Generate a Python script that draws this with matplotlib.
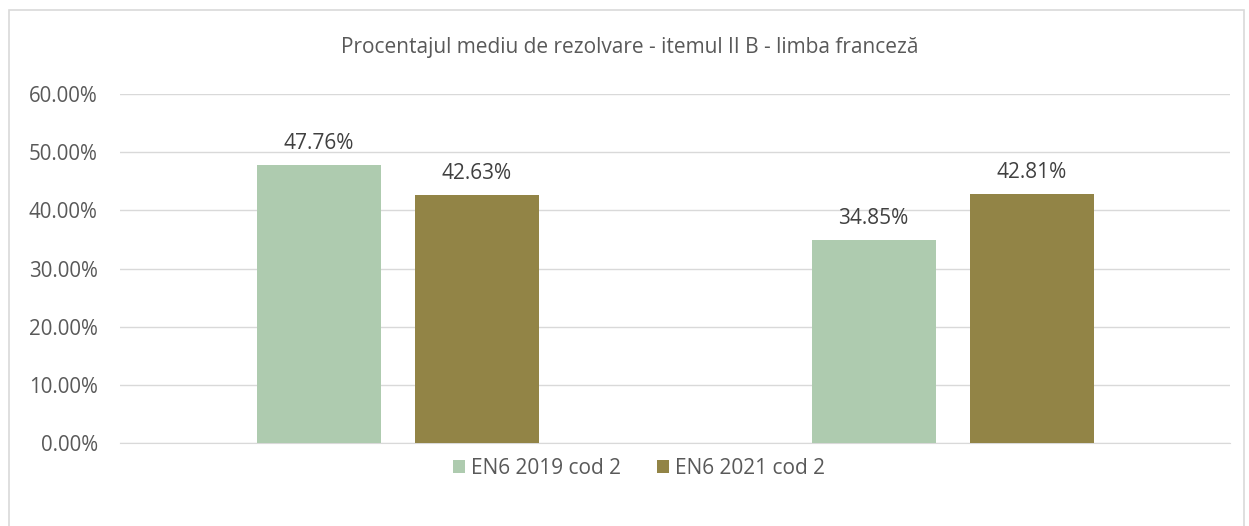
import numpy as np
import matplotlib
from matplotlib import pyplot as plt
from matplotlib.patches import Rectangle

# Data
categories = ['', '']
series_names = ['EN6 2019 cod 2', 'EN6 2021 cod 2']
values_2019 = [47.76, 34.85]
values_2021 = [42.63, 42.81]
yticks = [0, 10, 20, 30, 40, 50, 60]
title = 'Procentajul mediu de rezolvare - itemul II B - limba franceză'

col_2019 = '#AECBAF'
col_2021 = '#928446'
txt = '#595959'

matplotlib.rcParams['font.family'] = ['Open Sans', 'DejaVu Sans']

fig = plt.figure(figsize=(12.49, 5.26), dpi=100)
ax = fig.add_axes([120/1249, 1-443/526, 1110/1249, 349/526])

# Chart border
fig.patches.append(Rectangle((9/1249, -0.05), 1235/1249, 1.05-10/526,
	transform=fig.transFigure, fill=False, edgecolor='#D9D9D9', linewidth=1.2))

x = np.arange(len(categories))
w = 124/555
gap = 34/555
b1 = ax.bar(x - (w+gap)/2, values_2019, w, color=col_2019, label=series_names[0], zorder=3)
b2 = ax.bar(x + (w+gap)/2, values_2021, w, color=col_2021, label=series_names[1], zorder=3)

for bars in (b1, b2):
	for r in bars:
		ax.text(r.get_x() + r.get_width()/2, r.get_height() + 1.9,
			format(r.get_height(), '.2f') + '%', ha='center', va='bottom',
			fontsize=15, color='#404040')

ax.set_xlim(-0.5, 1.5)
ax.set_ylim(0, 60)
ax.set_yticks(yticks)
ax.set_yticklabels([format(t, '.2f') + '%' for t in yticks], fontsize=14.8, color=txt)
ax.set_xticks([])
ax.tick_params(axis='y', length=0, pad=16)
ax.grid(axis='y', color='#D9D9D9', linewidth=1, zorder=0)
for s in ['top', 'right', 'left']:
	ax.spines[s].set_visible(False)
ax.spines['bottom'].set_color('#D9D9D9')

fig.text(630/1249, 1-47/526, title, ha='center', va='center', fontsize=15, color=txt)

fig.legend(handles=[b1, b2], loc='center', bbox_to_anchor=(639/1249, 1-468/526),
	ncol=2, frameon=False, fontsize=15, labelcolor=txt, handlelength=0.6,
	handleheight=0.6, handletextpad=0.3, columnspacing=1.7)

plt.savefig('out.png', dpi=100)
